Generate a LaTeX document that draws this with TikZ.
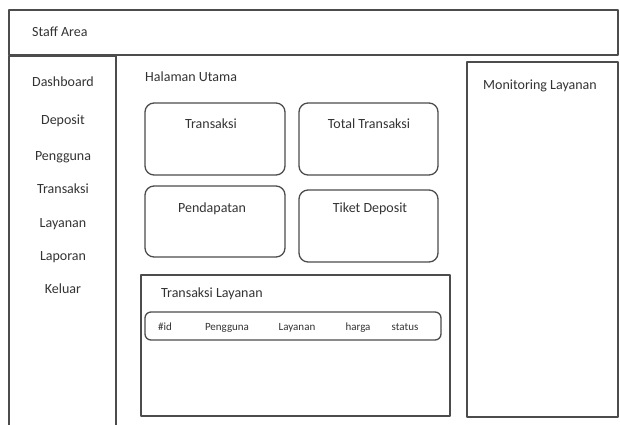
\documentclass[tikz,border=0pt]{standalone}
\usepackage{fontspec}
\setmainfont{Carlito}

\tikzset{
	frame/.style={draw=black!70, line width=1.3pt},
	card/.style={draw=black!70, line width=1.3pt, rounded corners=9pt},
	label/.style={text=black!80, inner sep=0pt, anchor=base}
}

\begin{document}
\begin{tikzpicture}[x=1pt, y=-1pt, line join=round, line cap=round, font=\fontsize{14}{16}\selectfont]
	\useasboundingbox (0, 0) rectangle (620, 424);
	% header and sidebar
	\draw[frame] (9, 10) rectangle (618, 55);
	\node[label, anchor=base west] (staff) at (32, 36) {Staff Area};
	\draw[frame] (9, 56) rectangle (116, 430);
	\foreach \y/\t/\n in {86/Dashboard/dash, 124/Deposit/depo, 160/Pengguna/peng, 193/Transaksi/tran, 227/Layanan/laya, 260/Laporan/lapo, 293/Keluar/kelu}
		\node[label] (menu-\n) at (63, \y) {\t};
	% main page
	\node[label, anchor=base west] (halaman) at (145, 81) {Halaman Utama};
	\draw[card] (145, 103) rectangle (285, 175);
	\draw[card] (299, 103) rectangle (438, 175);
	\draw[card] (145, 186) rectangle (285, 257);
	\draw[card] (299, 190) rectangle (438, 262);
	\node[label] (transaksi) at (211, 128) {Transaksi};
	\node[label] (total) at (369, 128) {Total Transaksi};
	\node[label] (pendapatan) at (212, 212) {Pendapatan};
	\node[label] (tiket) at (370, 212) {Tiket Deposit};
	% table
	\draw[frame] (141, 275) rectangle (450, 416);
	\node[label, anchor=base west] (tabel) at (161, 297) {Transaksi Layanan};
	\draw[card, rounded corners=6pt] (145, 312) rectangle (441, 340);
	\foreach \x/\t/\n in {165/\#id/id, 227/Pengguna/pengguna, 297/Layanan/layanan, 358/harga/harga, 405/status/status}
		\node[label, font=\fontsize{11}{12}\selectfont] (kol-\n) at (\x, 330) {\t};
	% monitoring
	\draw[frame] (467, 62) rectangle (618, 417);
	\node[label] (monitor) at (540, 89) {Monitoring Layanan};
\end{tikzpicture}
\end{document}
